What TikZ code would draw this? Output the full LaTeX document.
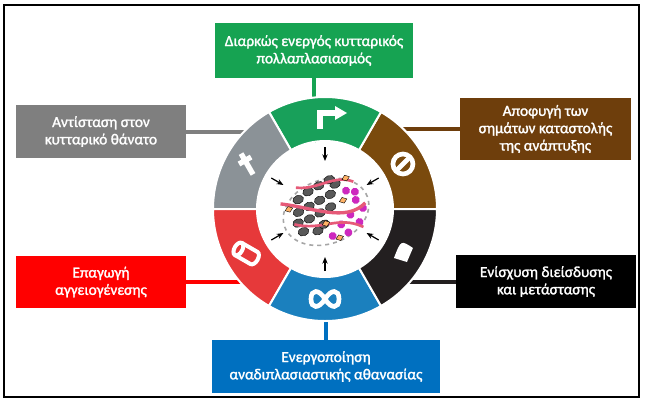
\documentclass[tikz,border=0pt]{standalone}
\usepackage{fontspec}
\setmainfont{Carlito}
\newfontfamily\boxfont{Carlito}[FakeBold=1.6]
\usetikzlibrary{calc,arrows.meta}

\definecolor{cgreen}{RGB}{22,163,82}
\definecolor{cgray}{RGB}{127,127,127}
\definecolor{cbrown}{RGB}{110,62,12}
\definecolor{cred}{RGB}{255,0,0}
\definecolor{cblue}{RGB}{0,112,192}
\definecolor{rgreen}{RGB}{24,160,90}
\definecolor{rbrown}{RGB}{122,74,13}
\definecolor{rblack}{RGB}{35,31,32}
\definecolor{rblue}{RGB}{27,128,190}
\definecolor{rred}{RGB}{230,57,58}
\definecolor{rgray}{RGB}{139,146,151}
\definecolor{cpink}{RGB}{230,90,120}
\definecolor{cmag}{RGB}{205,40,190}

\tikzset{
  hallbox/.style={fill=#1, text=white, font=\boxfont\fontsize{11.5}{13}\selectfont,
    align=center, inner sep=0pt},
  link/.style={line width=3pt, draw=#1},
  inarrow/.style={-{Stealth[length=5pt,width=4pt]}, line width=0.9pt},
}

\begin{document}
\begin{tikzpicture}[x=0.75pt,y=-0.75pt]
\useasboundingbox (0,0) rectangle (651,419);
% frame
\draw[line width=2pt] (4,5) rectangle (639,397);

% boxes
\node[hallbox=cgreen, minimum width=148.5pt, minimum height=41pt] (prolif) at (314,50.5)
  {Διαρκώς ενεργός κυτταρικός\\πολλαπλασιασμός};
\node[hallbox=cbrown, minimum width=128pt, minimum height=46.5pt] (growth) at (545.5,129)
  {Αποφυγή των\\σημάτων καταστολής\\της ανάπτυξης};
\node[hallbox=black, minimum width=135pt, minimum height=40pt] (invas) at (546,281.5)
  {Ενίσχυση διείσδυσης\\και μετάστασης};
\node[hallbox=cblue, minimum width=171pt, minimum height=40pt] (immort) at (326,366.5)
  {Ενεργοποίηση\\αναδιπλασιαστικής αθανασίας};
\node[hallbox=cred, minimum width=127.5pt, minimum height=39pt] (angio) at (101,282)
  {Επαγωγή\\αγγειογένεσης};
\node[hallbox=cgray, minimum width=127.5pt, minimum height=40pt] (death) at (101,131.5)
  {Αντίσταση στον\\κυτταρικό θάνατο};

% connectors (hidden under the ring)
\coordinate (ring) at (325,209);
\draw[link=cgreen] (prolif.south) -- (prolif.south |- ring);
\draw[link=cblue] (immort.north) -- (immort.north |- ring);
\draw[link=cgray] (death.east) -- (death.east -| ring);
\draw[link=cred] (angio.east) -- (angio.east -| ring);
\draw[link=cbrown] (growth.west) -- (growth.west -| ring);
\draw[link=rblack] (invas.west) -- (invas.west -| ring);

% ring of six segments
\begin{scope}[shift={(ring)}, yscale=-1]
\foreach \a/\col in {0/rbrown,60/rgreen,120/rgray,180/rred,240/rblue,300/rblack}
  \fill[\col, draw=white, line width=1.5pt] (\a:112) arc (\a:\a+60:112) -- (\a+60:68) arc (\a+60:\a:68) -- cycle;
\fill[white] (0,0) circle (67);

% icons
\draw[white, line width=4pt] (-5,80) -- (-5,96) -- (10,96);
\fill[white] (10,103) -- (22,96) -- (10,89) -- cycle;
\draw[white, line width=3.5pt] (30:90) circle (10);
\draw[white, line width=3.5pt] ($(30:90)+(-7,-7)$) -- ($(30:90)+(7,7)$);
\fill[white] ($(-30:90)+(-9,-4)$) .. controls ($(-30:90)+(-2,14)$) .. ($(-30:90)+(10,6)$) -- ($(-30:90)+(4,-8)$) -- cycle;
\draw[white, line width=3.5pt] (0,-90) .. controls (6,-100) and (14,-100) .. (14,-90) .. controls (14,-80) and (6,-80) .. (0,-90) .. controls (-6,-100) and (-14,-100) .. (-14,-90) .. controls (-14,-80) and (-6,-80) .. (0,-90);
\begin{scope}[shift={(210:90)}, rotate=30]
\draw[white, line width=3pt] (-10,-7) -- (8,-7) arc (-90:90:4 and 7) -- (-10,7);
\draw[white, line width=3pt] (-10,0) ellipse (4 and 7);
\end{scope}
\begin{scope}[shift={(150:90)}, rotate=-30]
\draw[white, line width=4pt] (0,-12) -- (0,12) (-7,4) -- (7,4);
\end{scope}

% arrows pointing inwards
\foreach \a in {90,30,-30,-90,210,150}
  \draw[inarrow] (\a:62) -- (\a:48);

% tumour sketch
\begin{scope}[rotate=-20]
\draw[gray!70, dashed, line width=1.2pt] (0,-3) ellipse (44 and 32);
\foreach \p in {(-22,18),(-10,22),(2,24),(-26,6),(-14,8),(-2,10),(10,12),(-18,-4),(-6,-2),(6,0),(-28,-14),(-14,-18),(18,20),(-30,-4),(14,26),(-6,-14)}
  \fill[gray!70!black, draw=black, line width=0.3pt] \p ellipse (5.5 and 4.2);
\foreach \p in {(26,10),(32,-2),(22,-14),(10,-20),(36,-12),(28,-24),(14,-30),(-2,-28),(34,6)}
  \fill[cmag] \p circle (4);
\draw[cpink, line width=2.5pt] (-40,20) .. controls (-10,5) and (15,-20) .. (40,-8);
\draw[cpink, line width=2pt] (-34,-4) .. controls (-10,-20) and (10,-10) .. (30,-30);
\draw[cpink, line width=2pt] (-20,30) .. controls (0,20) and (20,30) .. (36,16);
\foreach \p in {(-34,12),(20,2),(-4,-14),(30,22),(4,-32)}
  \fill[orange!60, draw=black, line width=0.3pt] \p ++(-4,0) -- ++(4,3) -- ++(4,-3) -- ++(-4,-3) -- cycle;
\end{scope}
\end{scope}
\end{tikzpicture}
\end{document}
